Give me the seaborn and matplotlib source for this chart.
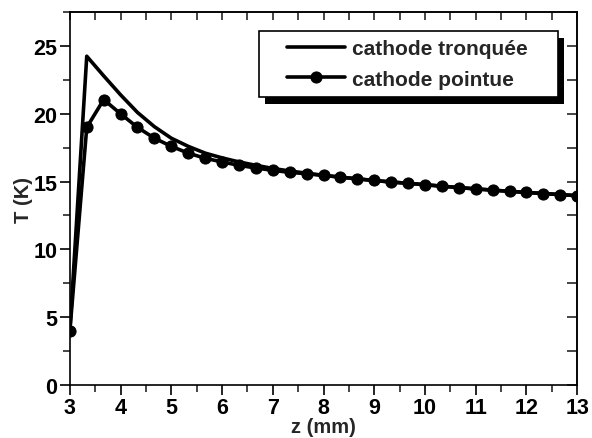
import numpy as np
import pandas as pd
import matplotlib
matplotlib.use("Agg")
import matplotlib.pyplot as plt
from matplotlib.ticker import MultipleLocator
from matplotlib.patches import Rectangle
import seaborn as sns

# Données (pas de 1/3 mm)
z = [3.0, 3.333, 3.667, 4.0, 4.333, 4.667, 5.0, 5.333, 5.667, 6.0, 6.333,
     6.667, 7.0, 7.333, 7.667, 8.0, 8.333, 8.667, 9.0, 9.333, 9.667, 10.0,
     10.333, 10.667, 11.0, 11.333, 11.667, 12.0, 12.333, 12.667, 13.0]
t_tronquee = [4.0, 24.25, 22.8, 21.4, 20.1, 19.05, 18.2, 17.6, 17.1, 16.75, 16.45,
              16.2, 15.97, 15.78, 15.62, 15.46, 15.33, 15.2, 15.08, 14.97, 14.87, 14.77,
              14.66, 14.56, 14.46, 14.37, 14.28, 14.2, 14.12, 14.04, 13.96]
t_pointue = [4.0, 19.0, 21.05, 20.0, 19.0, 18.2, 17.6, 17.1, 16.72, 16.45, 16.2,
             16.0, 15.83, 15.68, 15.58, 15.45, 15.33, 15.2, 15.08, 14.97, 14.87, 14.77,
             14.66, 14.56, 14.46, 14.37, 14.28, 14.2, 14.12, 14.04, 13.96]
labels = ["cathode tronquée", "cathode pointue"]

df = pd.DataFrame({"z": z, "tronq": t_tronquee, "pointe": t_pointue})

sns.set_theme(style="ticks")
plt.rcParams["font.family"] = ["Liberation Sans", "DejaVu Sans"]
plt.rcParams["font.weight"] = "bold"

W, H = 592, 439
fig = plt.figure(figsize=(W / 100, H / 100), dpi=100)
ax = fig.add_axes([0.118, 0.121, 0.857, 0.849])

sns.lineplot(data=df, x="z", y="tronq", ax=ax, color="black", lw=2.6,
             label=labels[0])
sns.lineplot(data=df, x="z", y="pointe", ax=ax, color="black", lw=2.6,
             marker="o", markersize=8, markeredgecolor="black", label=labels[1])

ax.set_xlim(3, 13)
ax.set_ylim(0, 27.5)
ax.xaxis.set_major_locator(MultipleLocator(1))
ax.xaxis.set_minor_locator(MultipleLocator(0.5))
ax.yaxis.set_major_locator(MultipleLocator(5))
ax.yaxis.set_minor_locator(MultipleLocator(2.5))
ax.tick_params(which="major", direction="out", length=7, width=1.2,
               labelsize=15.5, colors="black", pad=2)
ax.tick_params(which="minor", direction="out", length=5, width=1.2)
for lab in ax.get_xticklabels() + ax.get_yticklabels():
    lab.set_fontweight("bold")

for side in ["top", "right", "bottom", "left"]:
    ax.spines[side].set_visible(True)
    ax.spines[side].set_linewidth(1.2)
    ax.spines[side].set_color("black")

# graduations intérieures en haut et à droite
top = ax.secondary_xaxis("top")
top.xaxis.set_major_locator(MultipleLocator(0.5))
top.tick_params(direction="in", length=6, width=1.2, labeltop=False)
right = ax.secondary_yaxis("right")
right.yaxis.set_major_locator(MultipleLocator(2.5))
right.tick_params(direction="in", length=7, width=1.2, labelright=False)

ax.set_xlabel("z (mm)", fontsize=14.5, fontweight="bold", labelpad=-1)
ax.set_ylabel("T (K)", fontsize=14.5, fontweight="bold", labelpad=0)

# légende sans cadre, cadre et ombre dessinés ensuite
ax_w, ax_h = 0.857 * W, 0.849 * H
leg_left = (287 - 0.118 * W) / ax_w
leg_mid = 1 - (65 - (H - 0.970 * H)) / ax_h
leg = ax.legend(loc="center left", bbox_to_anchor=(leg_left, leg_mid),
                borderaxespad=0, borderpad=0, frameon=False,
                prop={"size": 15, "weight": "bold"},
                handlelength=2.8, handletextpad=0.3,
                labelspacing=0.55, markerscale=1.0)
leg.set_zorder(10)

fig.canvas.draw()
bb = leg.get_window_extent()
pad_l, pad_r, pad_t, pad_b = 28, 31, 8, 8
x0, x1 = bb.x0 - pad_l, bb.x1 + pad_r
y0, y1 = bb.y0 - pad_b, bb.y1 + pad_t
inv = ax.transAxes.inverted()
(ax0, ay0), (ax1, ay1) = inv.transform([(x0, y0), (x1, y1)])
(sx0, sy0), (sx1, sy1) = inv.transform([(x0 + 6, y0 - 7), (x1 + 6, y1 - 7)])
ax.add_patch(Rectangle((sx0, sy0), sx1 - sx0, sy1 - sy0, transform=ax.transAxes,
                       facecolor="black", edgecolor="none", zorder=8, clip_on=False))
ax.add_patch(Rectangle((ax0, ay0), ax1 - ax0, ay1 - ay0, transform=ax.transAxes,
                       facecolor="white", edgecolor="black", lw=1.2, zorder=9,
                       clip_on=False))

fig.savefig("out.png", dpi=100)
